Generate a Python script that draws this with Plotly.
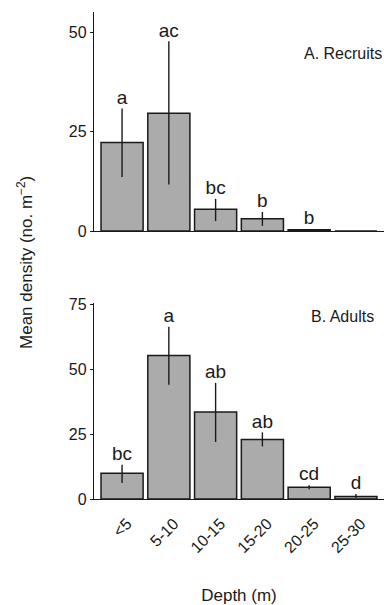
import plotly.graph_objects as go
from plotly.subplots import make_subplots

depth = ["<5", "5-10", "10-15", "15-20", "20-25", "25-30"]

rec_mean = [22.3, 29.7, 5.5, 3.1, 0.3, 0.0]
rec_upper = [30.9, 47.8, 8.1, 4.8, 0.5, 0.0]
rec_lower = [13.6, 11.7, 2.5, 1.3, 0.1, 0.0]
rec_letters = ["a", "ac", "bc", "b", "b", ""]

adu_mean = [9.9, 55.3, 33.6, 22.9, 4.5, 1.0]
adu_upper = [13.2, 66.4, 44.8, 25.7, 5.3, 1.9]
adu_lower = [6.2, 44.1, 22.0, 20.3, 3.8, 0.4]
adu_letters = ["bc", "a", "ab", "ab", "cd", "d"]

rec_ticks = [0, 25, 50]
adu_ticks = [0, 25, 50, 75]

FONT = "Liberation Sans, Arial, sans-serif"
INK = "#1a1a1a"
BAR = "#ababab"

fig = make_subplots(rows=2, cols=1, shared_xaxes=False)

def add_panel(row, mean, upper, lower, letters):
    fig.add_trace(go.Bar(
        x=list(range(len(depth))), y=mean,
        marker=dict(color=BAR, line=dict(color=INK, width=1.5)),
        error_y=dict(type="data", symmetric=False,
                     array=[u - m for u, m in zip(upper, mean)],
                     arrayminus=[m - l for m, l in zip(mean, lower)],
                     width=0, thickness=1.4, color=INK),
        showlegend=False, hoverinfo="skip"), row=row, col=1)
    fig.add_trace(go.Scatter(
        x=list(range(len(depth))), y=upper, mode="text", text=letters,
        textposition="top center",
        textfont=dict(family=FONT, size=19, color=INK),
        showlegend=False, hoverinfo="skip", cliponaxis=False), row=row, col=1)

add_panel(1, rec_mean, rec_upper, rec_lower, rec_letters)
add_panel(2, adu_mean, adu_upper, adu_lower, adu_letters)

axis_common = dict(showline=True, linecolor=INK, linewidth=1.4, showgrid=False,
                   zeroline=False)

fig.update_layout(
    width=384, height=605,
    margin=dict(l=94, r=0, t=12, b=106),
    plot_bgcolor="white", paper_bgcolor="white",
    bargap=0.1,
    font=dict(family=FONT, color=INK),
    xaxis=dict(domain=[0, 1], range=[-0.6, 5.6], showticklabels=False, ticks="",
               **axis_common),
    yaxis=dict(domain=[0.5503, 1.0], range=[0, 55.2], tickvals=rec_ticks,
               ticks="outside", ticklen=3, tickwidth=1, tickcolor=INK,
               tickfont=dict(family=FONT, size=16, color=INK), **axis_common),
    xaxis2=dict(domain=[0, 1], range=[-0.6, 5.6], tickvals=list(range(len(depth))),
                ticktext=depth, tickangle=-45, ticks="",
                ticklabelstandoff=8, ticklabelshift=5,
                tickfont=dict(family=FONT, size=16, color=INK),
                title=dict(text="Depth (m)", font=dict(family=FONT, size=17, color=INK),
                           standoff=33),
                **axis_common),
    yaxis2=dict(domain=[0.0, 0.4025], range=[0, 75.6], tickvals=adu_ticks,
                ticks="outside", ticklen=3, tickwidth=1, tickcolor=INK,
                tickfont=dict(family=FONT, size=16, color=INK), **axis_common),
)

fig.add_annotation(text="Mean density (no. m<sup>−2</sup>)", textangle=-90,
                   xref="paper", yref="paper", x=-0.238, y=0.4867,
                   xanchor="center", yanchor="middle", showarrow=False,
                   font=dict(family=FONT, size=17, color=INK))
fig.add_annotation(text="A. Recruits", xref="x", yref="paper", x=4.72, y=0.9158,
                   xanchor="center", yanchor="middle", showarrow=False,
                   font=dict(family=FONT, size=16, color=INK))
fig.add_annotation(text="B. Adults", xref="x2", yref="paper", x=4.72, y=0.3743,
                   xanchor="center", yanchor="middle", showarrow=False,
                   font=dict(family=FONT, size=16, color=INK))

fig.write_html("out.html", config={"displayModeBar": False},
               post_script="document.body.style.margin='0';document.body.style.overflow='hidden';")
